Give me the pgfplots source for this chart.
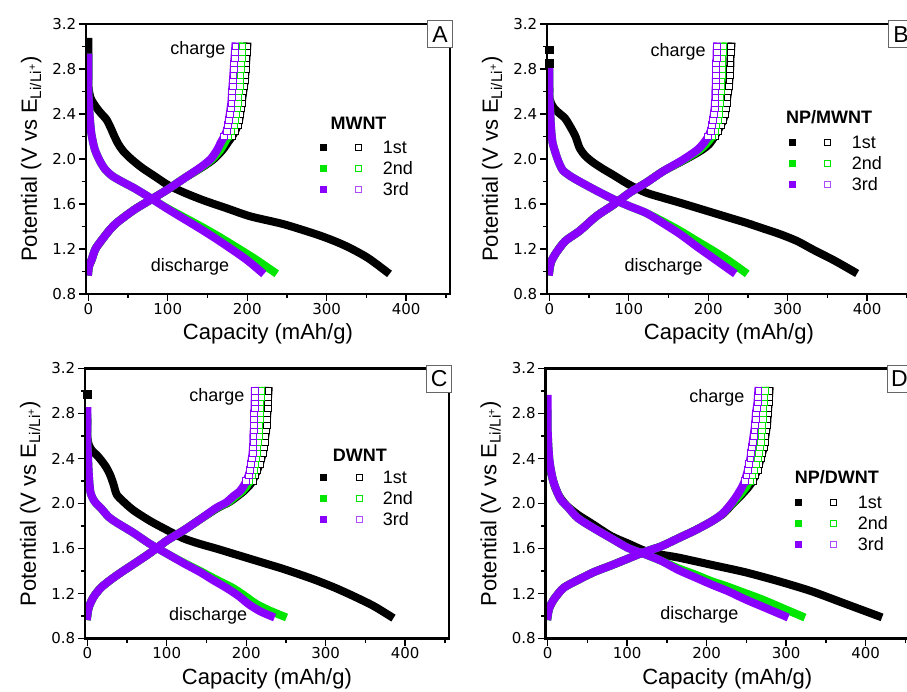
\documentclass[border=0pt]{standalone}
\usepackage{pgfplots}
\pgfplotsset{compat=1.18}
\usepackage{pgfplotstable}
\usepackage{fontspec}
\setmainfont{Liberation Sans}
\newfontfamily\tickff{DejaVu Sans}
\definecolor{grn}{RGB}{0,230,0}
\definecolor{vio}{RGB}{138,0,255}
\newcommand\tickfont{\tickff\fontsize{15}{18}\selectfont}
\newcommand\labfont{\fontsize{22}{26}\selectfont}
\newcommand\annfont{\fontsize{18}{21}\selectfont}

% ---------------- Panel A (MWNT) ----------------
\pgfplotstableread{
x y
0 3.04
0 2.95
0 2.85
0 2.75
0 2.66
1 2.60
3 2.54
7 2.49
12 2.44
18 2.39
23 2.35
28 2.28
33 2.20
38 2.13
44 2.07
54 2.00
68 1.92
85 1.84
100 1.77
121 1.70
146 1.63
175 1.56
204 1.49
246 1.42
287 1.33
310 1.27
329 1.21
352 1.12
375 1.00
}\Aad
\pgfplotstableread{
x y
0 1.00
1 1.05
4 1.10
9 1.20
17 1.28
27 1.37
37 1.44
58 1.55
79 1.64
100 1.73
121 1.83
144 1.93
158 2.00
169 2.08
176 2.15
181 2.20
185 2.25
188 2.30
190 2.35
191 2.40
192 2.45
193 2.50
194 2.55
195 2.60
196 2.65
197 2.70
197.5 2.75
198 2.80
198.5 2.85
199 2.90
199.5 2.95
200 3.00
}\Aac
\pgfplotstableread{
x y
0 2.90
0 2.75
0 2.60
1 2.48
2 2.36
4 2.22
8 2.09
14 1.99
21 1.91
30 1.85
42 1.80
58 1.74
79 1.65
100 1.56
121 1.48
142 1.40
162 1.32
183 1.23
208 1.12
233 1.00
}\Abd
\pgfplotstableread{
x y
0 1.00
1 1.05
4 1.10
9 1.20
17 1.28
27 1.37
37 1.44
58 1.55
79 1.64
100 1.73
121 1.83
143 1.93
156 2.00
166 2.08
172 2.15
176 2.20
180 2.25
183 2.30
185 2.35
186 2.40
187 2.45
188 2.50
189 2.55
190 2.60
190.5 2.65
191 2.70
191.5 2.75
192 2.80
192.5 2.85
193 2.90
193.5 2.95
194 3.00
}\Abc
\pgfplotstableread{
x y
0 2.90
0 2.75
0 2.60
1 2.48
2 2.36
4 2.22
8 2.09
14 1.99
21 1.91
30 1.85
42 1.80
58 1.74
79 1.65
100 1.555
121 1.465
142 1.375
162 1.285
183 1.185
200 1.10
217 1.00
}\Acd
\pgfplotstableread{
x y
0 1.00
1 1.05
4 1.10
9 1.20
17 1.28
27 1.37
37 1.44
58 1.55
79 1.64
100 1.73
121 1.83
142 1.93
154 2.00
162 2.08
167 2.15
171 2.20
174 2.25
176 2.30
177 2.35
178 2.40
179 2.45
180 2.50
180.5 2.55
181 2.60
181.5 2.65
182 2.70
182.5 2.75
183 2.80
183.5 2.85
184 2.90
184.5 2.95
185 3.00
}\Acc

% ---------------- Panel B (NP/MWNT) ----------------
\pgfplotstableread{
x y
0 2.60
0 2.55
2 2.50
6 2.45
12 2.41
20 2.36
27 2.28
33 2.20
38 2.10
45 2.03
55 1.97
68 1.91
80 1.86
101 1.77
122 1.70
143 1.655
165 1.61
186 1.565
207 1.52
228 1.475
249 1.43
270 1.38
291 1.33
312 1.27
333 1.19
358 1.10
383 1.00
}\Bad
\pgfplotstableread{
x y
0 1.00
2 1.08
8 1.16
20 1.27
38 1.36
59 1.49
80 1.59
101 1.70
122 1.79
143 1.89
167 1.98
180 2.03
192 2.08
201 2.13
208 2.20
212 2.25
216 2.30
219 2.35
221 2.40
222 2.45
223 2.50
224 2.55
225 2.60
226 2.65
226.5 2.70
227 2.75
227.5 2.80
228 2.85
228 2.90
228.5 2.95
229 3.00
}\Bac
\pgfplotstableread{
x y
0 2.76
0 2.66
0 2.55
1 2.45
2 2.30
4 2.15
8 2.05
12 1.97
17 1.90
26 1.85
38 1.80
59 1.72
80 1.645
101 1.58
122 1.52
143 1.445
165 1.36
186 1.27
205 1.19
225 1.10
245 1.00
}\Bbd
\pgfplotstableread{
x y
0 1.00
2 1.08
8 1.16
20 1.27
38 1.36
59 1.49
80 1.59
101 1.70
122 1.79
143 1.89
166 1.98
178 2.03
189 2.08
197 2.13
205 2.20
208 2.25
210 2.30
212 2.35
213 2.40
214 2.45
214.5 2.50
215 2.55
215.5 2.60
216 2.65
216.5 2.70
217 2.75
217 2.80
217.5 2.85
217.5 2.90
218 2.95
218 3.00
}\Bbc
\pgfplotstableread{
x y
0 2.82
0 2.70
0 2.55
1 2.45
2 2.30
4 2.15
8 2.05
12 1.97
17 1.90
26 1.85
38 1.80
59 1.72
80 1.645
101 1.58
122 1.52
143 1.43
165 1.33
186 1.22
208 1.11
230 1.00
}\Bcd
\pgfplotstableread{
x y
0 1.00
2 1.08
8 1.16
20 1.27
38 1.36
59 1.49
80 1.59
101 1.70
122 1.79
143 1.89
165 1.98
176 2.03
186 2.08
193 2.13
200 2.20
203 2.25
205 2.30
206 2.35
207 2.40
208 2.45
208.5 2.50
209 2.55
209 2.60
209.5 2.65
209.5 2.70
210 2.75
210 2.80
210 2.85
210.5 2.90
210.5 2.95
211 3.00
}\Bcc

% ---------------- Panel C (DWNT) ----------------
\pgfplotstableread{
x y
0 2.72
0 2.60
2 2.52
6 2.47
12 2.43
18 2.38
24 2.32
29 2.25
33 2.17
37 2.08
45 2.02
58 1.94
79 1.845
100 1.765
121 1.69
142 1.64
162 1.60
183 1.555
204 1.51
225 1.465
246 1.42
267 1.37
287 1.32
312 1.25
337 1.17
360 1.09
381 1.00
}\Cad
\pgfplotstableread{
x y
0 1.00
2 1.08
8 1.17
17 1.25
29 1.32
43 1.39
58 1.46
79 1.56
100 1.67
121 1.76
142 1.86
164 1.96
178 2.01
188 2.06
197 2.11
204 2.16
208 2.20
211 2.25
214 2.30
217 2.35
219 2.40
221 2.45
222 2.50
223 2.55
224 2.60
225 2.65
225.5 2.70
226 2.75
226.5 2.80
227 2.85
227 2.90
227.5 2.95
228 3.00
}\Cac
\pgfplotstableread{
x y
0 2.76
0 2.66
0 2.55
1 2.40
2 2.25
4 2.10
9 2.02
17 1.96
27 1.88
37 1.83
58 1.74
79 1.64
100 1.555
121 1.475
142 1.40
162 1.325
183 1.25
198 1.18
212 1.11
229 1.05
246 1.00
}\Cbd
\pgfplotstableread{
x y
0 1.00
2 1.08
8 1.17
17 1.25
29 1.32
43 1.39
58 1.46
79 1.56
100 1.67
121 1.76
142 1.86
163 1.96
177 2.01
186 2.06
195 2.11
201 2.16
204 2.20
207 2.25
209.5 2.30
211 2.35
212 2.40
213 2.45
214 2.50
215 2.55
215.5 2.60
216 2.65
216.5 2.70
217 2.75
217 2.80
217.5 2.85
217.5 2.90
218 2.95
218 3.00
}\Cbc
\pgfplotstableread{
x y
0 2.82
0 2.70
0 2.55
1 2.40
2 2.25
4 2.10
9 2.02
17 1.96
27 1.88
37 1.83
58 1.74
79 1.64
100 1.555
121 1.47
142 1.39
158 1.32
175 1.25
190 1.18
204 1.10
218 1.04
231 1.00
}\Ccd
\pgfplotstableread{
x y
0 1.00
2 1.08
8 1.17
17 1.25
29 1.32
43 1.39
58 1.46
79 1.56
100 1.67
121 1.76
142 1.86
162 1.96
175 2.01
183 2.06
192 2.11
197 2.16
200 2.20
203 2.25
205 2.30
206 2.35
207 2.40
208 2.45
208.5 2.50
209 2.55
209 2.60
209.5 2.65
210 2.70
210 2.75
210 2.80
210.5 2.85
210.5 2.90
211 2.95
211 3.00
}\Ccc

% ---------------- Panel D (NP/DWNT) ----------------
\pgfplotstableread{
x y
0 2.50
2 2.35
5 2.25
9 2.15
15 2.06
24 1.98
38 1.90
58 1.81
80 1.71
101 1.645
122 1.58
143 1.545
164 1.52
206 1.455
248 1.39
290 1.31
332 1.22
374 1.11
416 1.00
}\Dad
\pgfplotstableread{
x y
0 1.00
2 1.07
8 1.15
20 1.25
38 1.32
58 1.39
80 1.45
101 1.51
122 1.57
143 1.62
164 1.69
185 1.76
206 1.84
221 1.91
233 2.00
243 2.07
252 2.14
258 2.20
261 2.25
264 2.30
266 2.35
268 2.40
270 2.45
272 2.50
273 2.55
274 2.60
275 2.65
276 2.70
276.5 2.75
277 2.80
277.5 2.85
278 2.90
278.5 2.95
279 3.00
}\Dac
\pgfplotstableread{
x y
0 2.80
0 2.65
1 2.50
2 2.40
4 2.30
7 2.20
12 2.10
17 2.03
25 1.97
38 1.87
58 1.78
80 1.69
101 1.605
122 1.55
143 1.49
164 1.425
185 1.37
206 1.31
227 1.26
248 1.205
269 1.15
294 1.075
319 1.00
}\Dbd
\pgfplotstableread{
x y
0 1.00
2 1.07
8 1.15
20 1.25
38 1.32
58 1.39
80 1.45
101 1.51
122 1.57
143 1.62
164 1.69
185 1.76
206 1.84
220 1.91
232 2.00
241 2.07
249 2.14
254 2.20
257.5 2.25
260 2.30
262 2.35
264 2.40
265.5 2.45
267 2.50
268 2.55
269 2.60
269.5 2.65
270 2.70
270.5 2.75
271 2.80
271.5 2.85
272 2.90
272.5 2.95
273 3.00
}\Dbc
\pgfplotstableread{
x y
0 2.93
0 2.80
0 2.65
1 2.50
2 2.40
4 2.30
7 2.20
12 2.10
17 2.03
25 1.97
38 1.87
58 1.78
80 1.69
101 1.605
122 1.55
143 1.49
164 1.41
185 1.345
206 1.28
227 1.22
248 1.15
273 1.075
298 1.00
}\Dcd
\pgfplotstableread{
x y
0 1.00
2 1.07
8 1.15
20 1.25
38 1.32
58 1.39
80 1.45
101 1.51
122 1.57
143 1.62
164 1.69
185 1.76
206 1.84
220 1.91
231 2.00
238 2.07
244 2.14
248 2.20
250 2.25
252 2.30
253.5 2.35
255 2.40
256 2.45
257 2.50
258 2.55
259 2.60
260 2.65
261 2.70
261.5 2.75
262 2.80
263 2.85
264 2.90
264.5 2.95
265 3.00
}\Dcc

\pgfplotsset{
  dis/.style={line width=8pt, line join=round, line cap=rect, smooth, tension=0.45, forget plot},
  chm/.style={only marks, mark=square*, mark size=3.4pt,
    mark options={fill=white, line width=0.8pt},
    restrict y to domain=2.18:3.05, forget plot},
  iso/.style={only marks, mark=square*, mark size=3.8pt, forget plot},
  panel/.style={
    scale only axis, width=364pt, height=270pt,
    xmin=-3, xmax=455, ymin=0.8, ymax=3.2,
    xtick={0,100,200,300,400}, minor xtick={50,150,250,350,450},
    ytick={0.8,1.2,1.6,2.0,2.4,2.8,3.2}, minor ytick={1.0,1.4,1.8,2.2,2.6,3.0},
    tick align=outside, tick pos=left,
    major tick length=7pt, minor tick length=4pt,
    every tick/.style={black, line width=1.4pt},
    axis line style={line width=2.8pt},
    axis on top,
    /pgf/number format/assume math mode=true,
    tick label style={font=\tickfont},
    xticklabel style={inner sep=2pt},
    yticklabel style={inner sep=2.5pt, /pgf/number format/.cd, fixed, fixed zerofill, precision=1},
    xlabel={Capacity (mAh/g)},
    ylabel={Potential (V vs E\textsubscript{Li/Li\textsuperscript{+}})},
    label style={font=\labfont},
    xlabel style={at={(axis description cs:0.5,-0.148)}, anchor=center},
    ylabel style={at={(axis description cs:-0.1346,0.5)}, anchor=base},
    legend columns=2, legend cell align=left,
    legend image code/.code={\draw[##1] plot coordinates {(0pt,0pt)};},
    legend style={draw=none, fill=none, anchor=north west, inner sep=0pt,
      column sep=0pt, row sep=4pt, font=\annfont,
      nodes={inner sep=0pt, text height=15pt, text depth=2pt}},
  },
}
\tikzset{
  ann/.style={font=\annfont},
  ttl/.style={font=\annfont\bfseries},
  labbox/.style={draw=black!60, line width=0.8pt, fill=white, minimum width=25pt,
    minimum height=27pt, inner sep=0pt, font=\fontsize{23}{26}\selectfont},
}
\newcommand\cyc[3]{%
  \addplot[dis,#1] table {#2};
  \addplot[dis,#1] table {#3};
  \addplot[chm,#1] table {#3};
}
\newcommand\legentries{%
  \addlegendimage{black, mark=square*, mark size=3pt}
  \addlegendentry{\hspace*{30pt}}
  \addlegendimage{black, mark=square*, mark size=3pt, mark options={fill=white, line width=0.7pt}}
  \addlegendentry{\hspace*{21pt}1st}
  \addlegendimage{grn, mark=square*, mark size=3pt}
  \addlegendentry{\hspace*{30pt}}
  \addlegendimage{grn, mark=square*, mark size=3pt, mark options={fill=white, line width=0.7pt}}
  \addlegendentry{\hspace*{21pt}2nd}
  \addlegendimage{vio, mark=square*, mark size=3pt}
  \addlegendentry{\hspace*{30pt}}
  \addlegendimage{vio!70!white, mark=square*, mark size=3pt, mark options={fill=white, line width=0.7pt}}
  \addlegendentry{\hspace*{21pt}3rd}
}

\begin{document}
\begin{tikzpicture}
\path[use as bounding box] (0,0) rectangle (907pt,691pt);
\clip (0,0) rectangle (907pt,691pt);

% A
\begin{axis}[panel, at={(85.9pt,397pt)}, anchor=south west,
  legend style={at={(0.642,0.576)}}]
\cyc{black}{\Aad}{\Aac}
\cyc{grn}{\Abd}{\Abc}
\cyc{vio}{\Acd}{\Acc}
\node[ann] at (axis cs:138,2.97) {charge};
\node[ann] at (axis cs:128,1.04) {discharge};
\node[ttl] at (axis cs:340,2.32) {MWNT};
\coordinate (labA) at (rel axis cs:0.973,0.962);
\legentries
\end{axis}
\node[labbox] at (labA) {A};

% B
\begin{axis}[panel, at={(546.9pt,397pt)}, anchor=south west,
  legend style={at={(0.664,0.594)}}]
\addplot[iso,black] coordinates {(0,2.97) (0,2.85)};
\cyc{black}{\Bad}{\Bac}
\cyc{grn}{\Bbd}{\Bbc}
\cyc{vio}{\Bcd}{\Bcc}
\node[ann] at (axis cs:162,2.95) {charge};
\node[ann] at (axis cs:144,1.04) {discharge};
\node[ttl] at (axis cs:352,2.37) {NP/MWNT};
\coordinate (labB) at (rel axis cs:0.973,0.962);
\legentries
\end{axis}
\node[labbox] at (labB) {B};

% C
\begin{axis}[panel, at={(84.9pt,52.5pt)}, anchor=south west,
  legend style={at={(0.645,0.63)}}]
\addplot[iso,black] coordinates {(0,2.97)};
\cyc{black}{\Cad}{\Cac}
\cyc{grn}{\Cbd}{\Cbc}
\cyc{vio}{\Ccd}{\Ccc}
\node[ann] at (axis cs:163,2.95) {charge};
\node[ann] at (axis cs:152,1.00) {discharge};
\node[ttl] at (axis cs:343,2.425) {DWNT};
\coordinate (labC) at (rel axis cs:0.973,0.962);
\legentries
\end{axis}
\node[labbox] at (labC) {C};

% D
\begin{axis}[panel, at={(545.3pt,52.5pt)}, anchor=south west,
  legend style={at={(0.685,0.537)}}]
\cyc{black}{\Dad}{\Dac}
\cyc{grn}{\Dbd}{\Dbc}
\cyc{vio}{\Dcd}{\Dcc}
\node[ann] at (axis cs:213,2.94) {charge};
\node[ann] at (axis cs:191,1.01) {discharge};
\node[ttl] at (axis cs:364,2.23) {NP/DWNT};
\coordinate (labD) at (rel axis cs:0.973,0.962);
\legentries
\end{axis}
\node[labbox] at (labD) {D};
\end{tikzpicture}
\end{document}
